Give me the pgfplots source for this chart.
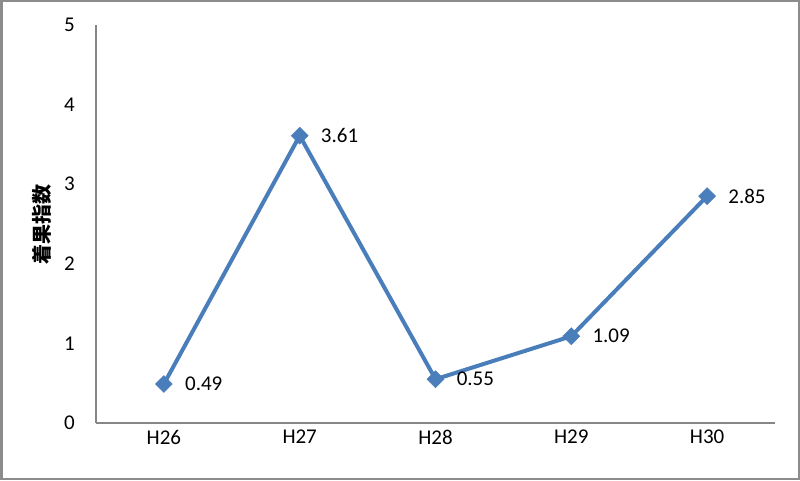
\documentclass[border=0pt]{standalone}
\usepackage{pgfplots}
\pgfplotsset{compat=1.18}
\usepackage{fontspec}
\setmainfont{Carlito}
\newfontfamily\cjk{Noto Sans CJK JP}
\definecolor{linec}{HTML}{4A7EBB}
\definecolor{axc}{HTML}{868686}
\definecolor{framec}{HTML}{8C8C8C}
\begin{document}
\begin{tikzpicture}[x=1pt,y=1pt]
\useasboundingbox (0,0) rectangle (800,480);
\draw[framec, line width=2.5pt] (1.25,1.25) rectangle (798.75,478.75);
\begin{axis}[
  at={(96pt,57pt)}, anchor=south west,
  scale only axis, width=679pt, height=398pt,
  xmin=-0.5, xmax=4.5, ymin=0, ymax=5,
  axis x line*=bottom, axis y line*=left,
  axis line style={axc, line width=1.5pt},
  xtick={0,1,2,3,4}, xticklabels={H26,H27,H28,H29,H30},
  ytick={0,1,2,3,4,5},
  major tick length=0pt,
  tick label style={font=\fontsize{21}{25}\selectfont, inner sep=0pt, text=black},
  /pgf/number format/assume math mode=true,
  yticklabel style={xshift=-21pt},
  xticklabel style={yshift=-7pt},
  ylabel={\cjk\bfseries 着果指数},
  ylabel style={at={(axis description cs:-0.0795,0.5)}, anchor=center, rotate=0, font=\fontsize{20}{24}\selectfont},
  clip=false,
  nodes near coords,
  point meta=explicit symbolic,
  nodes near coords style={anchor=west, inner sep=0pt, xshift=21pt, font=\fontsize{21}{25}\selectfont, text=black},
]
\addplot[linec, line width=4pt, mark=square*, mark size=6pt,
  mark options={rotate=45, solid, fill=linec, draw=linec, line width=0.5pt}]
  table[meta=lab] {
x y lab
0 0.49 0.49
1 3.61 3.61
2 0.55 0.55
3 1.09 1.09
4 2.85 2.85
};
\end{axis}
\end{tikzpicture}
\end{document}
